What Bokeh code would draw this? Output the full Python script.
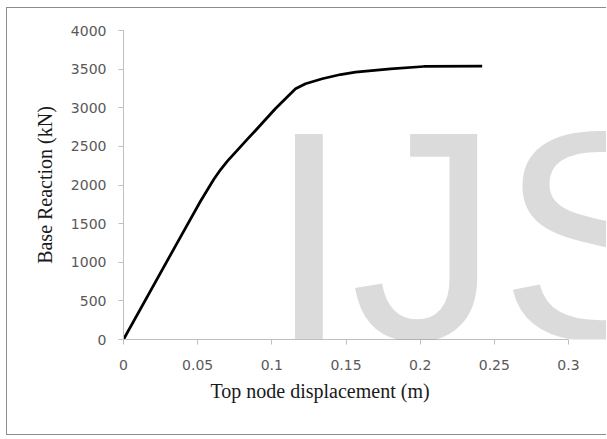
from bokeh.plotting import figure
from bokeh.models import Label, Range1d, FixedTicker, Title
from bokeh.embed import file_html
from bokeh.resources import INLINE

# Pushover curve data
displacement = [0, 0.0396, 0.0519, 0.0609, 0.0655, 0.0699, 0.0834, 0.089, 0.1025, 0.116,
                0.1227, 0.134, 0.1463, 0.1564, 0.18, 0.2023, 0.2418]
base_reaction = [0, 1368, 1790, 2075, 2200, 2305, 2590, 2705, 2990, 3245,
                 3310, 3375, 3430, 3460, 3504, 3534, 3538]

x_ticks = [0, 0.05, 0.1, 0.15, 0.2, 0.25, 0.3]
x_tick_labels = ["0", "0.05", "0.1", "0.15", "0.2", "0.25", "0.3"]
y_ticks = [0, 500, 1000, 1500, 2000, 2500, 3000, 3500, 4000]

x_title = "Top node displacement (m)"
y_title = "Base Reaction (kN)"
watermark = "IJS"

W, H = 600, 428
LEFT = 116
AXIS_PX = 445  # pixel length of the 0..0.3 axis
x_end = x_ticks[-1] * (W - LEFT) / AXIS_PX  # frame runs to the canvas edge (watermark not clipped)

p = figure(width=W, height=H, output_backend="svg", toolbar_location=None,
           x_range=Range1d(0, x_end), y_range=Range1d(0, y_ticks[-1]))
p.min_border_left = LEFT
p.min_border_right = 0
p.min_border_top = 22
p.min_border_bottom = 97
p.outline_line_color = None
p.grid.visible = False
p.background_fill_color = "white"
p.border_fill_color = "white"
p.styles = {"border": "1px solid #8c8c8c", "border-right": "none",
            "margin-left": "6px", "margin-top": "7px"}

# watermark (canvas pixel position)
p.add_layout(Label(x=259, y=226, x_units="canvas", y_units="canvas", text=watermark,
                   text_font="Liberation Sans", text_font_size="298px",
                   text_color="black", text_alpha=0.14, text_baseline="alphabetic",
                   text_align="left"))

p.line(displacement, base_reaction, line_color="black", line_width=2.75)

for ax in (p.xaxis[0], p.yaxis[0]):
    ax.axis_line_color = "#bfbfbf"
    ax.axis_line_width = 1
    ax.major_tick_line_color = "#bfbfbf"
    ax.major_tick_out = 5
    ax.major_tick_in = 0
    ax.minor_tick_line_color = None
    ax.major_label_text_font = "DejaVu Sans"
    ax.major_label_text_font_size = "14px"
    ax.major_label_text_color = "#595959"
    ax.axis_label_text_font = "Liberation Serif"
    ax.axis_label_text_font_size = "20px"
    ax.axis_label_text_font_style = "normal"
    ax.axis_label_text_color = "#1a1a1a"

p.xaxis.ticker = FixedTicker(ticks=x_ticks)
p.xaxis.bounds = (x_ticks[0], x_ticks[-1])
p.xaxis.major_label_overrides = {t: l for t, l in zip(x_ticks, x_tick_labels)}
p.xaxis.major_label_standoff = 15
p.yaxis.ticker = FixedTicker(ticks=y_ticks)
p.yaxis.major_label_standoff = 12
p.yaxis.axis_label = y_title
p.yaxis.axis_label_standoff = 12

p.add_layout(Title(text=x_title, align="left", offset=87, text_font="Liberation Serif",
                   text_font_size="20px", text_font_style="normal",
                   text_color="#1a1a1a", standoff=10), "below")

open("out.html", "w").write(file_html(p, INLINE))
